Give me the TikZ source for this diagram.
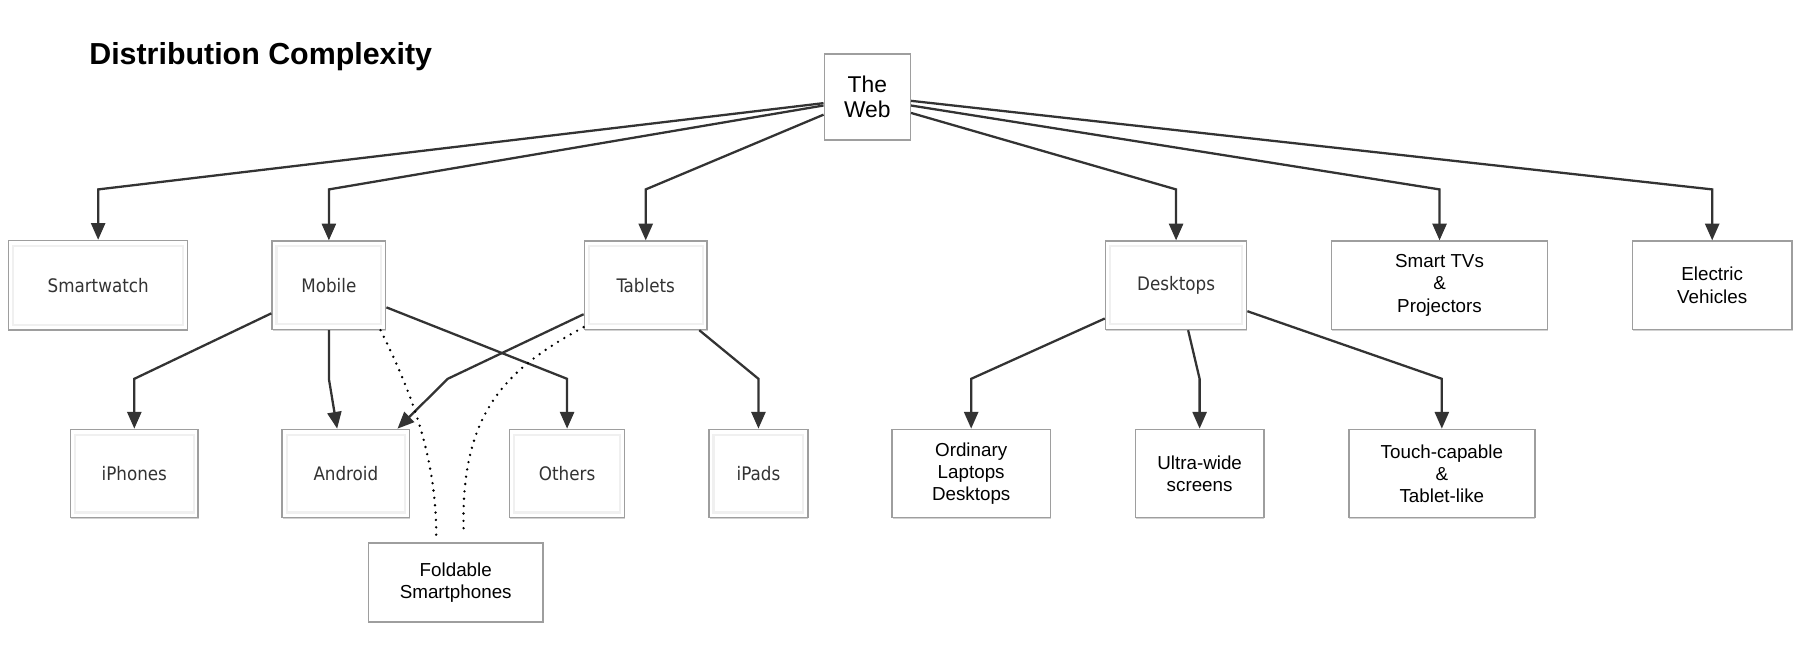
\documentclass[tikz,border=0pt]{standalone}
\usepackage{fontspec}
\setmainfont{Liberation Sans}
\newfontfamily\condfont{DejaVu Sans Condensed}
\usepackage{tikz}
\usetikzlibrary{positioning,arrows.meta,shadows}

\begin{document}
\begin{tikzpicture}[
            x=0.02296cm, y=-0.02296cm,
            wh/.style 2 args={minimum width=#1*0.02296cm, minimum height=#2*0.02296cm},
            box/.style={rectangle, draw=black!38, line width=0.8pt, fill=white, align=center, inner sep=1pt,
                drop shadow={shadow xshift=0.3pt, shadow yshift=-0.7pt, fill=black!35, opacity=0.5}},
            devbox/.style={text=black!80, font=\condfont\fontsize{10.6}{12}\selectfont,
                path picture={\draw[black!6, line width=1.2pt]
                    ([shift={(2.5pt,-3pt)}]path picture bounding box.north west) rectangle
                    ([shift={(-2.5pt,3pt)}]path picture bounding box.south east);}},
            txtbox/.style={font=\fontsize{10.7}{12.6}\selectfont},
            link/.style={draw=black!80, line width=1.3pt, -{Triangle[length=9.5pt, width=8pt]}},
            fold/.style={draw=black, line width=1.5pt, line cap=round, dash pattern=on 0pt off 4.2pt}
        ]
            \useasboundingbox (0,0) rectangle (1568,566);
            \node[anchor=base west, inner sep=0pt, font=\fontsize{17.3}{20}\selectfont\bfseries] (title) at (77.5,55.8) {Distribution Complexity};
            % bend levels
            \coordinate (top) at (0,165);
            \coordinate (mid) at (0,330);
            \begin{scope}[
                every node/.style={box, wh={111}{77}}
            ]
                % Root
                \node[font=\fontsize{13}{14}\selectfont, wh={75}{75}] (web) at (755.5,84.5) {The\\Web};
                % Devices
                \node[devbox, wh={156}{78}] (sw)   at (85.5,248.5)  {Smartwatch};
                \node[devbox, wh={99}{77}]  (mob)  at (286.5,248.5) {Mobile};
                \node[devbox, wh={107}{77}] (tab)  at (562.5,248.5) {Tablets};
                \node[devbox, wh={123}{77}] (desk) at (1024.5,248.5) {Desktops};
                \node[txtbox, wh={188}{77}] (tv) at (1254,248.5) {Smart TVs\\\&\\Projectors};
                \node[txtbox, wh={139}{77}] (ev) at (1491.5,248.5) {Electric\\Vehicles};
                % Kinds
                \node[devbox] (iph)  at (117,412.5)   {iPhones};
                \node[devbox] (and)  at (301.3,412.5) {Android};
                \node[devbox, wh={100}{77}] (oth)  at (494,412.5) {Others};
                \node[devbox, wh={86}{77}]  (ipad) at (660.7,412.5) {iPads};
                \node[txtbox, wh={138}{77}] (ord)   at (846,412.5)  {Ordinary\\Laptops\\Desktops};
                \node[txtbox, wh={112}{77}] (ultra) at (1045,412.5) {Ultra-wide\\screens};
                \node[txtbox, wh={162}{77}] (touch) at (1256,412.5) {Touch-capable\\\&\\Tablet-like};
                \node[txtbox, wh={152}{69}] (fold)  at (397,507.5)  {Foldable\\Smartphones};
            \end{scope}
            % Edges
            \draw[link] (web.188) -- (sw.north |- top) -- (sw.north);
            \draw[link] (web.191) -- (mob.north |- top) -- (mob.north);
            \draw[link] (web.202) -- (tab.north |- top) -- (tab.north);
            \draw[link] (web.340) -- (desk.north |- top) -- (desk.north);
            \draw[link] (web.349) -- (tv.north |- top) -- (tv.north);
            \draw[link] (web.355) -- (ev.north |- top) -- (ev.north);
            \draw[link] (mob.206) -- (iph.north |- mid) -- (iph.north);
            \draw[link] (mob.south) -- (mob.south |- mid) -- (and.101);
            \draw[link] (mob.339) -- (oth.north |- mid) -- (oth.north);
            \draw[link] (tab.205) -- (390,330) -- (and.41);
            \draw[link] (tab.320) -- (ipad.north |- mid) -- (ipad.north);
            \draw[link] (desk.205) -- (ord.north |- mid) -- (ord.north);
            \draw[link] (desk.285) -- (ultra.north |- mid) -- (ultra.north);
            \draw[link] (desk.340) -- (touch.north |- mid) -- (touch.north);
            % Foldables
            \draw[fold] (mob.319) .. controls (360,345) and (380,400) .. ([shift={(-17,-6)}]fold.north);
            \draw[fold] (tab.214) .. controls (440,322) and (400,360) .. ([shift={(7,-6)}]fold.north);
        \end{tikzpicture}
\end{document}
